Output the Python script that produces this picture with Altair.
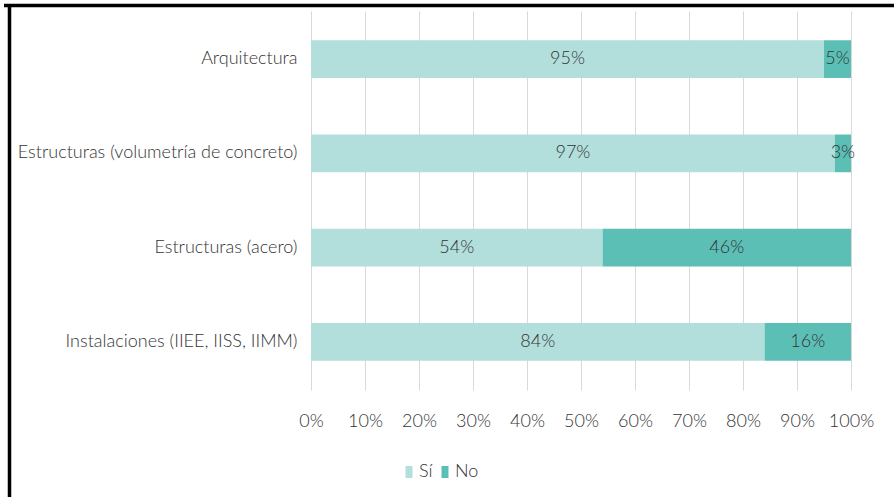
import altair as alt
import pandas as pd

categories = ["Arquitectura", "Estructuras (volumetría de concreto)", "Estructuras (acero)",
              "Instalaciones (IIEE, IISS, IIMM)"]
si_values = [95, 97, 54, 84]
no_values = [5, 3, 46, 16]
answers = ["Sí", "No"]
colors = ["#b2dfdb", "#5cbfb6"]

rows = []
for c, s, n in zip(categories, si_values, no_values):
    rows.append({"cat": c, "resp": "Sí", "val": s / 100, "ord": 0, "lab": f"{s}%"})
    rows.append({"cat": c, "resp": "No", "val": n / 100, "ord": 1, "lab": f"{n}%"})
df = pd.DataFrame(rows)

FONT = "Lato"
FW = 300
FS = 18
TXT = "#333333"

y_enc = alt.Y("cat:N", sort=categories, title=None,
              scale=alt.Scale(paddingInner=0.6, paddingOuter=0.31),
              axis=alt.Axis(domain=False, ticks=False, labelFontSize=FS, labelFont=FONT,
                            labelFontWeight=FW,
                            labelColor=TXT, labelPadding=14, labelLimit=400))

bars = alt.Chart(df).mark_bar().encode(
    x=alt.X("val:Q", stack="zero", title=None,
            scale=alt.Scale(domain=[0, 1], nice=False),
            axis=alt.Axis(format=".0%", values=[i / 10 for i in range(11)], domain=False,
                          ticks=False, grid=True, gridColor="#d9d9d9", labelFontSize=FS,
                          labelFont=FONT, labelFontWeight=FW, labelColor=TXT, labelPadding=22,
                          labelOverlap=False, labelFlush=False)),
    y=y_enc,
    color=alt.Color("resp:N", sort=answers, scale=alt.Scale(domain=answers, range=colors),
                    legend=alt.Legend(title=None, orient="none", direction="horizontal",
                                      legendX=89, legendY=452,
                                      symbolType="M-0.58,-1H0.58V1H-0.58Z", symbolSize=144,
                                      symbolStrokeWidth=0, labelFontSize=FS, labelFont=FONT,
                                      labelFontWeight=FW,
                                      labelColor=TXT, labelOffset=1, columnPadding=3)),
    order=alt.Order("ord:Q"),
)

texts = alt.Chart(df).transform_stack(
    stack="val", groupby=["cat"], as_=["x0", "x1"], sort=[alt.SortField("ord")]
).transform_calculate(
    xm="(datum.x0 + datum.x1) / 2"
).mark_text(font=FONT, fontSize=FS, fontWeight=FW, color=TXT, baseline="middle",
            align="center").encode(
    x=alt.X("xm:Q"),
    y=alt.Y("cat:N", sort=categories),
    text="lab:N",
)

one = pd.DataFrame({"a": [0]})
top_border = alt.Chart(one).mark_rule(color="#000000", strokeWidth=3.5).encode(
    x=alt.value(-307), x2=alt.value(590), y=alt.value(-5.5))
left_border = alt.Chart(one).mark_rule(color="#000000", strokeWidth=3.5).encode(
    x=alt.value(-301.5), y=alt.value(-7), y2=alt.value(500))

chart = alt.layer(bars, texts, top_border, left_border).properties(
    width=540, height=379,
    autosize=alt.AutoSizeParams(type="none"),
    padding={"left": 311, "top": 11, "right": 43, "bottom": 107},
    background="white",
).configure_view(stroke=None)

chart.save("out.html", embed_options={"renderer": "svg", "actions": False})
